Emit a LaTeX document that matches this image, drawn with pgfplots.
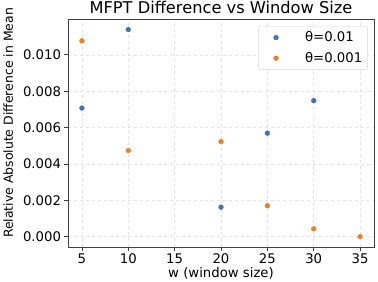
\documentclass[border=0pt]{standalone}
\usepackage{fontspec}
\setmainfont{DejaVu Sans}
\usepackage{pgfplots}
\pgfplotsset{compat=1.18}
\definecolor{tabblue}{HTML}{4472B4}
\definecolor{taborange}{HTML}{E8812A}
\begin{document}
\begin{tikzpicture}
\useasboundingbox (-68bp,-35bp) rectangle (310bp,247bp);
\begin{axis}[
  scale only axis, width=306bp, height=228bp,
  xmin=3.5, xmax=36.5, ymin=-0.00057, ymax=0.01197,
  xtick={5,10,15,20,25,30,35},
  ytick={0,0.002,0.004,0.006,0.008,0.010},
  yticklabels={0.000,0.002,0.004,0.006,0.008,0.010},
  scaled y ticks=false,
  /pgf/number format/assume math mode=true,
  tick label style={font=\fontsize{13.3}{15}\selectfont},
  tick align=outside, tick pos=left, major tick length=3.5bp,
  every tick/.style={black!75, line width=0.8bp},
  grid=major, grid style={gray!22, dashed, line width=0.5bp},
  axis line style={black!75, line width=0.8bp},
  title={MFPT Difference vs Window Size},
  title style={font=\fontsize{16.3}{18}\selectfont, at={(axis description cs:0.5,1)}, anchor=base},
  xlabel={w (window size)},
  xlabel style={font=\fontsize{13.3}{15}\selectfont, at={(axis description cs:0.5,-0.1316)}, anchor=base},
  ylabel={Relative Absolute Difference in Mean},
  ylabel style={font=\fontsize{12.5}{15}\selectfont, at={(axis description cs:-0.18,0.544)}, anchor=base},
  legend style={at={(axis description cs:0.98,0.969)}, anchor=north east,
    draw=gray!30, rounded corners=2bp, font=\fontsize{13.3}{15}\selectfont,
    row sep=5bp, inner sep=3.5bp},
  legend cell align=left,
]
\addplot[only marks, mark=*, mark size=2.4bp, color=tabblue, fill=tabblue,
  legend image code/.code={\path[draw=none,fill=none] (-14bp,0bp) -- (27bp,0bp); \fill[tabblue] (0bp,0bp) circle (2.4bp);}]
  coordinates {(5,0.00707) (10,0.01139) (20,0.00162) (25,0.00569) (30,0.00748)};
\addlegendentry{θ=0.01}
\addplot[only marks, mark=*, mark size=2.4bp, color=taborange, fill=taborange,
  legend image code/.code={\path[draw=none,fill=none] (-14bp,0bp) -- (27bp,0bp); \fill[taborange] (0bp,0bp) circle (2.4bp);}]
  coordinates {(5,0.01077) (10,0.00474) (20,0.00523) (25,0.00170) (30,0.00043) (35,0.0)};
\addlegendentry{θ=0.001}
\end{axis}
\end{tikzpicture}
\end{document}
